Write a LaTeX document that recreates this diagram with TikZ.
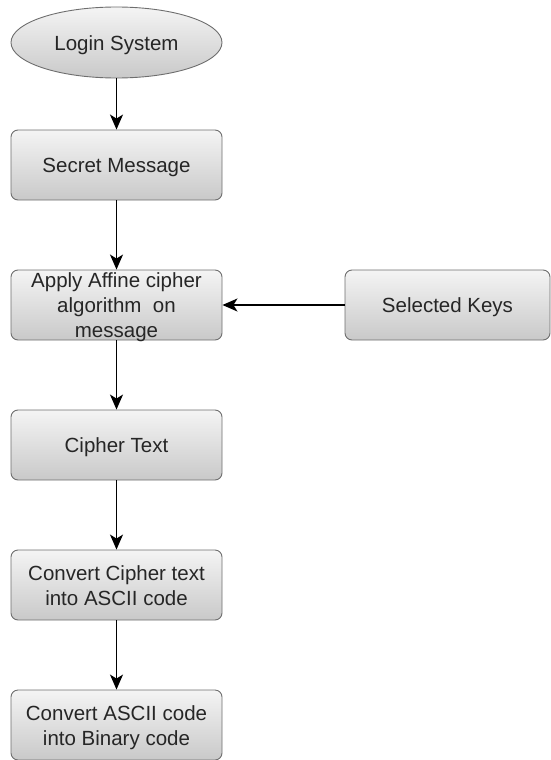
\documentclass[tikz,border=0pt]{standalone}
\usepackage{fontspec}
\setmainfont{Liberation Sans}
\usetikzlibrary{arrows.meta,shapes.geometric}
\definecolor{boxline}{HTML}{6E6E6E}
\definecolor{boxtop}{HTML}{F4F4F4}
\definecolor{boxbot}{HTML}{C9C9C9}
\tikzset{
  stepbox/.style={rectangle, rounded corners=7pt, draw=boxline, line width=0.9pt,
    top color=boxtop, bottom color=boxbot, minimum width=211pt, minimum height=70pt,
    inner sep=0pt, align=center, text=black!85, font=\fontsize{20.5}{24.8}\selectfont,
    text height=20.1pt, text depth=4.7pt},
  % multi-line text sits on its last baseline
  twoline/.style={text height=44.9pt},
  threeline/.style={text height=69.7pt, inner ysep=-2.2pt},
  startnode/.style={stepbox, ellipse, minimum height=71pt},
  flow/.style={line width=1.4pt, -{Stealth[length=15pt,width=13pt,inset=4pt]}},
  >=Stealth
}

\begin{document}
\begin{tikzpicture}[x=1pt, y=-1pt]
  \useasboundingbox (0,0) rectangle (551,760);
  % main column
  \node[startnode] (login) at (116.5,42.5) {Login System};
  \node[stepbox] (secret) at (116.5,165) {Secret Message};
  \node[stepbox, threeline] (apply) at (116.5,305) {Apply Affine cipher\\algorithm\ \ on\\message};
  \node[stepbox] (cipher) at (116.5,445) {Cipher Text};
  \node[stepbox, twoline] (toascii) at (116.5,585) {Convert Cipher text\\into ASCII code};
  \node[stepbox, twoline] (tobin) at (116.5,725) {Convert ASCII code\\into Binary code};
  % key input
  \node[stepbox, minimum width=205pt] (keys) at (447.5,305) {Selected Keys};
  % connectors
  \draw[flow] (login) -- (secret);
  \draw[flow] (secret) -- (apply);
  \draw[flow] (apply) -- (cipher);
  \draw[flow] (cipher) -- (toascii);
  \draw[flow] (toascii) -- (tobin);
  \draw[flow] (keys) -- (apply);
\end{tikzpicture}
\end{document}
